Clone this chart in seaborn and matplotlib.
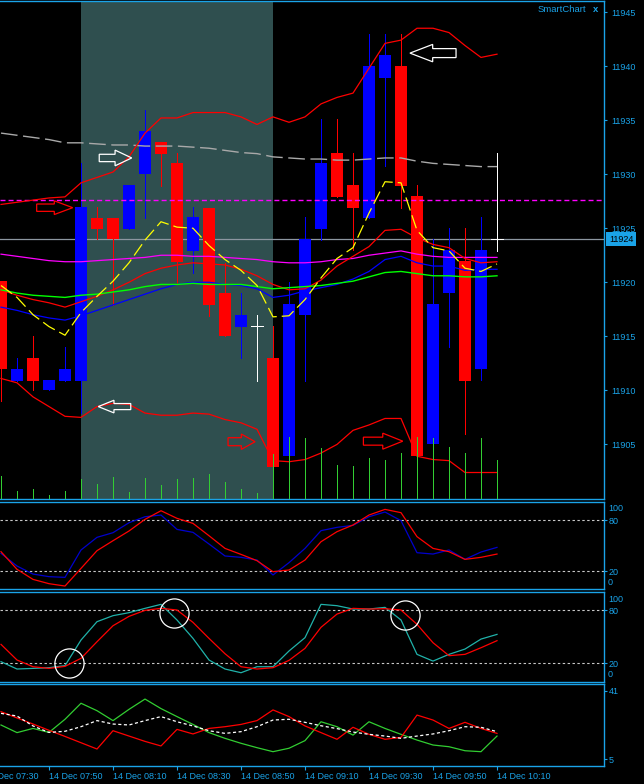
import numpy as np
import pandas as pd
import matplotlib
matplotlib.use("Agg")
import matplotlib.pyplot as plt
import matplotlib.transforms as mtransforms
from matplotlib.patches import FancyArrow
import seaborn as sns

# ---- 5 minute bars, 14 Dec 07:35 .. 10:10 ----
times = pd.date_range("2020-12-14 07:35", "2020-12-14 10:10", freq="5min")
opens = [11920.1, 11910.9, 11913.0, 11910.0, 11910.9, 11910.9, 11925.9, 11925.9,
         11924.9, 11930.0, 11933.0, 11931.0, 11922.9, 11926.9, 11919.0, 11915.9,
         11916.0, 11913.0, 11903.9, 11917.0, 11924.9, 11932.0, 11929.0, 11925.9,
         11938.9, 11940.0, 11928.0, 11905.0, 11919.0, 11922.0, 11912.0, 11924.0]
highs = [11920.1, 11913.0, 11915.0, 11911.0, 11914.0, 11931.0, 11927.0, 11925.9,
         11929.0, 11935.9, 11933.0, 11932.0, 11927.0, 11926.9, 11921.8, 11919.0,
         11917.0, 11916.0, 11920.0, 11926.0, 11935.1, 11935.1, 11932.0, 11943.0,
         11943.0, 11943.0, 11929.0, 11924.0, 11925.0, 11925.0, 11926.0, 11932.0]
lows = [11909.0, 11910.9, 11910.0, 11910.0, 11910.9, 11907.9, 11924.0, 11917.9,
        11924.9, 11925.9, 11928.9, 11919.9, 11920.9, 11916.9, 11915.0, 11913.0,
        11910.9, 11902.9, 11903.9, 11910.9, 11923.9, 11927.9, 11923.0, 11925.9,
        11930.8, 11926.9, 11903.9, 11905.0, 11914.0, 11906.0, 11911.0, 11922.9]
closes = [11912.0, 11912.0, 11910.9, 11911.0, 11912.0, 11927.0, 11924.9, 11924.0,
          11929.0, 11934.0, 11931.9, 11921.9, 11926.0, 11917.9, 11915.0, 11917.0,
          11916.0, 11902.9, 11918.0, 11924.0, 11931.0, 11927.9, 11926.9, 11940.0,
          11941.0, 11928.9, 11903.9, 11918.0, 11923.0, 11910.9, 11923.0, 11924.0]
volume = [23, 8, 10, 4, 8, 20, 15, 22, 7, 21, 14, 20, 21, 25, 17, 10,
          6, 45, 62, 61, 51, 34, 33, 41, 39, 46, 62, 61, 52, 46, 61, 39]

# bands / moving averages on the price chart
band_up = [11927.2, 11927.4, 11927.6, 11927.8, 11927.9, 11929.2, 11929.7, 11930.2,
           11931.6, 11933.8, 11935.2, 11935.2, 11935.7, 11935.7, 11935.7, 11935.3,
           11934.6, 11935.3, 11934.8, 11935.3, 11936.5, 11937.1, 11937.5, 11939.8,
           11942.1, 11942.4, 11943.5, 11943.5, 11943.1, 11941.9, 11940.8, 11941.1]
band_low = [11911.1, 11910.7, 11909.4, 11908.5, 11907.6, 11907.5, 11908.5, 11908.8,
            11908.7, 11907.9, 11907.7, 11907.7, 11907.9, 11907.8, 11907.3, 11907.0,
            11906.4, 11903.5, 11903.4, 11903.6, 11904.2, 11905.0, 11906.3, 11906.8,
            11907.4, 11907.4, 11903.9, 11903.6, 11903.5, 11902.4, 11902.4, 11902.4]
ma_long = [11933.8, 11933.6, 11933.4, 11933.2, 11932.9, 11932.9, 11932.8, 11932.7,
           11932.7, 11932.6, 11932.6, 11932.6, 11932.5, 11932.4, 11932.2, 11932.0,
           11931.9, 11931.6, 11931.5, 11931.4, 11931.4, 11931.3, 11931.3, 11931.4,
           11931.5, 11931.5, 11931.2, 11931.0, 11930.9, 11930.8, 11930.7, 11930.7]
ma_magenta = [11922.6, 11922.4, 11922.2, 11922.0, 11921.9, 11921.9, 11922.0, 11922.1,
              11922.2, 11922.3, 11922.5, 11922.5, 11922.4, 11922.4, 11922.3, 11922.2,
              11922.1, 11921.9, 11921.8, 11921.8, 11921.9, 11922.1, 11922.2, 11922.5,
              11922.7, 11922.9, 11922.6, 11922.4, 11922.3, 11922.3, 11922.3, 11922.3]
ma_red = [11919.3, 11918.8, 11918.4, 11918.1, 11917.7, 11918.2, 11918.7, 11919.3,
          11920.0, 11920.8, 11921.3, 11921.6, 11921.8, 11921.7, 11921.6, 11921.2,
          11920.6, 11919.8, 11919.3, 11919.4, 11920.2, 11921.5, 11922.4, 11923.3,
          11924.8, 11924.9, 11924.1, 11923.5, 11923.2, 11922.2, 11921.8, 11921.9]
ma_blue = [11917.7, 11917.4, 11917.0, 11916.7, 11916.5, 11916.9, 11917.4, 11917.9,
           11918.4, 11918.9, 11919.4, 11919.8, 11920.0, 11920.0, 11919.8, 11919.7,
           11919.4, 11918.6, 11918.8, 11919.2, 11919.5, 11919.8, 11920.3, 11921.0,
           11922.1, 11922.4, 11921.8, 11921.5, 11921.5, 11921.1, 11921.2, 11921.2]
ma_green = [11919.3, 11919.0, 11918.8, 11918.7, 11918.6, 11918.8, 11918.9, 11919.1,
            11919.3, 11919.6, 11919.8, 11919.8, 11919.9, 11919.8, 11919.8, 11919.8,
            11919.6, 11919.4, 11919.5, 11919.6, 11919.7, 11919.9, 11920.1, 11920.5,
            11920.9, 11921.0, 11920.8, 11920.6, 11920.6, 11920.5, 11920.5, 11920.6]
ma_fast = [11919.7, 11918.6, 11917.0, 11915.9, 11915.1, 11917.2, 11918.7, 11920.1,
           11921.8, 11923.9, 11925.6, 11925.1, 11925.0, 11923.4, 11922.1, 11921.1,
           11919.7, 11916.8, 11916.9, 11918.4, 11920.4, 11922.2, 11923.2, 11926.4,
           11929.3, 11929.2, 11924.8, 11923.2, 11922.9, 11921.3, 11921.0, 11921.7]
level_line = 11927.6
last_price = 11924

# stochastic #1
st1_main = [40.9, 25.9, 16.4, 13.3, 12.5, 44.9, 59.9, 65.4, 77.2, 84.3, 86.3, 69.3,
            65.8, 52.0, 37.8, 36.2, 33.0, 15.3, 29.9, 46.8, 67.8, 71.7, 74.1, 84.3,
            89.9, 79.6, 41.7, 40.1, 44.9, 33.8, 42.5, 48.0]
st1_signal = [42.9, 22.0, 10.1, 5.0, 2.2, 23.1, 44.1, 55.9, 67.4, 81.2, 91.4, 82.4,
              76.4, 61.8, 46.8, 39.7, 32.2, 19.2, 21.2, 33.0, 54.7, 66.6, 74.5, 86.3,
              93.0, 89.1, 60.7, 46.8, 42.9, 33.8, 36.2, 40.1]
# stochastic #2
st2_main = [21.9, 13.6, 14.3, 15.1, 17.4, 46.4, 67.2, 74.0, 77.4, 82.3, 86.8, 69.1,
            48.3, 23.8, 13.6, 9.4, 16.2, 16.2, 34.0, 49.1, 86.8, 85.3, 81.5, 81.5,
            83.4, 69.1, 30.2, 22.6, 30.2, 36.2, 47.5, 52.8]
st2_signal = [41.5, 23.8, 16.2, 14.3, 16.6, 25.7, 44.5, 62.6, 73.2, 80.0, 82.3, 80.4,
              66.4, 48.3, 30.9, 16.2, 13.6, 15.1, 23.4, 37.0, 60.8, 75.8, 82.3, 81.5,
              81.9, 80.4, 64.2, 43.4, 28.7, 30.2, 37.7, 45.7]
# directional movement panel
dmi_plus = [23.0, 19.0, 21.2, 19.1, 26.0, 34.4, 30.5, 25.3, 31.2, 36.6, 31.6, 27.4,
            23.3, 19.0, 16.0, 13.4, 11.1, 9.0, 10.8, 14.8, 24.7, 22.1, 17.7, 24.7,
            21.2, 18.1, 15.1, 12.5, 11.6, 9.5, 9.0, 17.2]
dmi_minus = [30.0, 26.7, 23.5, 20.2, 17.0, 13.7, 10.4, 20.0, 17.2, 14.4, 12.0, 20.7,
             18.3, 21.2, 22.1, 23.3, 25.3, 30.9, 27.4, 22.5, 19.0, 15.5, 21.8, 18.1,
             15.5, 16.5, 28.2, 25.6, 21.2, 24.4, 21.2, 18.6]
adx = [29.1, 27.7, 22.5, 19.1, 19.7, 22.1, 25.3, 23.5, 23.0, 25.3, 27.4, 24.7,
       22.5, 20.0, 18.6, 19.5, 22.1, 25.6, 26.0, 24.4, 22.6, 21.1, 19.3, 18.1,
       17.2, 16.0, 17.2, 18.3, 20.0, 22.1, 21.8, 19.5]

tick_times = ["07:30", "07:50", "08:10", "08:30", "08:50", "09:10", "09:30", "09:50", "10:10"]

# annotations drawn on the chart: (tail x, price, dx, width, head width, head length)
white_arrows = [(6.14, 11931.5, 2.03, 0.68, 1.45, 1.04),
                (28.44, 11941.2, -2.88, 0.83, 1.61, 1.42),
                (8.11, 11908.5, -2.03, 0.56, 1.17, 0.98)]
red_arrows = [(2.23, 11926.9, 2.25, 0.68, 1.27, 1.15),
              (14.19, 11905.25, 1.69, 0.74, 1.42, 0.86),
              (22.65, 11905.3, 2.46, 0.74, 1.48, 1.25)]
circles_x = [4.22, 10.84, 25.22]
circles_y = [20.0, 77.4, 74.7]

CYAN = "#1AA3E8"
BLUE = "#0000FF"
RED = "#FF0000"
PX = 0.72  # one pixel at 100 dpi, in points

plt.rcParams['font.family'] = ['Liberation Sans', 'DejaVu Sans']

idx = np.arange(len(times))
o, h, l, c = (np.array(v) for v in (opens, highs, lows, closes))
df = pd.DataFrame({"i": idx, "up": band_up, "low": band_low, "long": ma_long,
                   "mag": ma_magenta, "red": ma_red, "blue": ma_blue,
                   "green": ma_green, "fast": ma_fast,
                   "s1m": st1_main, "s1s": st1_signal, "s2m": st2_main, "s2s": st2_signal,
                   "dp": dmi_plus, "dm": dmi_minus, "adx": adx})

fig = plt.figure(figsize=(6.44, 7.84), dpi=100, facecolor="black")
W = 604 / 644
ax = fig.add_axes([0, 1 - 499 / 784, W, 498 / 784])
ax2 = fig.add_axes([0, 1 - 589 / 784, W, 87.3 / 784])
ax3 = fig.add_axes([0, 1 - 682 / 784, W, 90 / 784])
ax4 = fig.add_axes([0, 1 - 766 / 784, W, 82 / 784])

for a in (ax, ax2, ax3, ax4):
    a.set_facecolor("black")
    a.set_xlim(-0.0625, 37.6875)
    a.yaxis.tick_right()
    a.spines["left"].set_visible(False)
    for s in ("top", "right", "bottom"):
        a.spines[s].set_color(CYAN)
        a.spines[s].set_linewidth(1.0)
    a.set_xticks([])
    a.tick_params(axis="y", colors=CYAN, labelsize=6.5, length=2, width=0.8, pad=1.5)

# ---- price panel ----
ax.set_ylim(11899.95, 11946.02)
ax.axvspan(5, 17, color="#2F4F4F", lw=0, zorder=0)
ax.set_yticks(np.arange(11905, 11946, 5))
ax.tick_params(axis="y", pad=3)

col = np.where(c > o, BLUE, np.where(c < o, RED, "white"))
ax.vlines(idx, l, h, colors=col, lw=PX, zorder=2, antialiased=False)
ax.bar(idx, np.abs(c - o), bottom=np.minimum(o, c), width=0.69, color=col, lw=0, zorder=3)
doji = c == o
ax.hlines(c[doji], idx[doji] - 0.35, idx[doji] + 0.35, colors="white", lw=PX, zorder=3,
          antialiased=False)

ax.axhline(last_price, color="#8C96A0", lw=0.9, zorder=1)
ax.axhline(level_line, color="#FF00FF", lw=1.0, ls=(0, (3.6, 2.2)), zorder=4)

sns.lineplot(data=df, x="i", y="long", ax=ax, color="#A9A9A9", lw=1.0,
             linestyle=(0, (12, 4)), zorder=5)
sns.lineplot(data=df, x="i", y="up", ax=ax, color=RED, lw=0.9, zorder=5)
sns.lineplot(data=df, x="i", y="low", ax=ax, color=RED, lw=0.9, zorder=5)
sns.lineplot(data=df, x="i", y="mag", ax=ax, color="#FF00FF", lw=0.9, zorder=5)
sns.lineplot(data=df, x="i", y="red", ax=ax, color=RED, lw=0.9, zorder=5)
sns.lineplot(data=df, x="i", y="blue", ax=ax, color=BLUE, lw=0.9, zorder=5)
sns.lineplot(data=df, x="i", y="green", ax=ax, color="#00FF00", lw=1.0, zorder=5)
sns.lineplot(data=df, x="i", y="fast", ax=ax, color="#FFFF00", lw=0.9,
             linestyle=(0, (11, 4)), zorder=6)
ax.set_xlabel("")
ax.set_ylabel("")

# volume, bottom of price panel
ax.vlines(idx, 0, np.array(volume) / 498, colors="#32CD32", lw=PX,
          transform=ax.get_xaxis_transform(), zorder=7, antialiased=False)

for arrows, ec in ((white_arrows, "white"), (red_arrows, RED)):
    for x0, y0, dx, w, hw, hl in arrows:
        ax.add_patch(FancyArrow(x0, y0, dx, 0, width=w, head_width=hw, head_length=hl,
                                length_includes_head=True, fill=False, ec=ec, lw=0.9, zorder=8))

trans = mtransforms.blended_transform_factory(ax.transAxes, ax.transData)
ax.text(1 + 5 / 604, last_price, str(last_price), transform=trans, ha="left", va="center",
        fontsize=6.5, color="black", clip_on=False,
        bbox=dict(boxstyle="square,pad=0.3", fc=CYAN, ec="none"))
fig.text(538 / 644, 1 - 10 / 784, "SmartChart", color=CYAN, fontsize=6.8, va="center", ha="left")
fig.text(593 / 644, 1 - 10 / 784, "x", color=CYAN, fontsize=6.8, va="center", ha="left",
         fontweight="bold")

# ---- oscillator panels ----
def levels(a, top_lbl, bot_lbl, ytop, ybot):
    a.axhline(80, color="#C8C8C8", lw=0.8, ls=(0, (2.2, 2.2)))
    a.axhline(20, color="#C8C8C8", lw=0.8, ls=(0, (2.2, 2.2)))
    a.set_yticks([20, 80])
    for txt, yy in ((top_lbl, ytop), (bot_lbl, ybot)):
        a.text(1 + 4 / 604, yy, txt, transform=a.transAxes, ha="left", va="center",
               fontsize=6.5, color=CYAN, clip_on=False)

ax2.set_ylim(-1.3, 102.1)
levels(ax2, "100", "0", 0.924, 0.077)
sns.lineplot(data=df, x="i", y="s1m", ax=ax2, color="#0000CD", lw=0.9)
sns.lineplot(data=df, x="i", y="s1s", ax=ax2, color=RED, lw=0.9)

ax3.set_ylim(-1.1, 100.8)
levels(ax3, "100", "0", 0.922, 0.086)
sns.lineplot(data=df, x="i", y="s2m", ax=ax3, color="#20B2AA", lw=0.9)
sns.lineplot(data=df, x="i", y="s2s", ax=ax3, color=RED, lw=0.9)
ax3.plot(circles_x, circles_y, "o", ms=21, mfc="none", mec="white", mew=0.9)

ax4.set_ylim(1.49, 44.5)
ax4.set_yticks([5, 41])
sns.lineplot(data=df, x="i", y="dp", ax=ax4, color="#32CD32", lw=0.9)
sns.lineplot(data=df, x="i", y="dm", ax=ax4, color=RED, lw=0.9)
sns.lineplot(data=df, x="i", y="adx", ax=ax4, color="white", lw=0.9, linestyle=(0, (2.5, 2.0)))

for a in (ax2, ax3, ax4):
    a.set_xlabel("")
    a.set_ylabel("")

# time axis
t0 = times[0]
tick_pos = [(pd.Timestamp("2020-12-14 " + t) - t0) / pd.Timedelta("5min") for t in tick_times]
tick_lbl = ["14 Dec " + t for t in tick_times]
ax4.set_xticks(tick_pos[1:])
ax4.set_xticklabels(tick_lbl[1:], ha="left")
ax4.tick_params(axis="x", colors=CYAN, labelsize=6.5, length=3, width=0.8, pad=1.5)
ax4.set_xlim(-0.0625, 37.6875)
# first label starts left of the chart edge and is cut, as on screen
ax4.annotate(tick_lbl[0], xy=(tick_pos[0], 0), xycoords=("data", "axes fraction"),
             xytext=(0, -4.5), textcoords="offset points", ha="left", va="top",
             fontsize=6.5, color=CYAN, annotation_clip=False)

fig.savefig("out.png", dpi=100, facecolor="black")
